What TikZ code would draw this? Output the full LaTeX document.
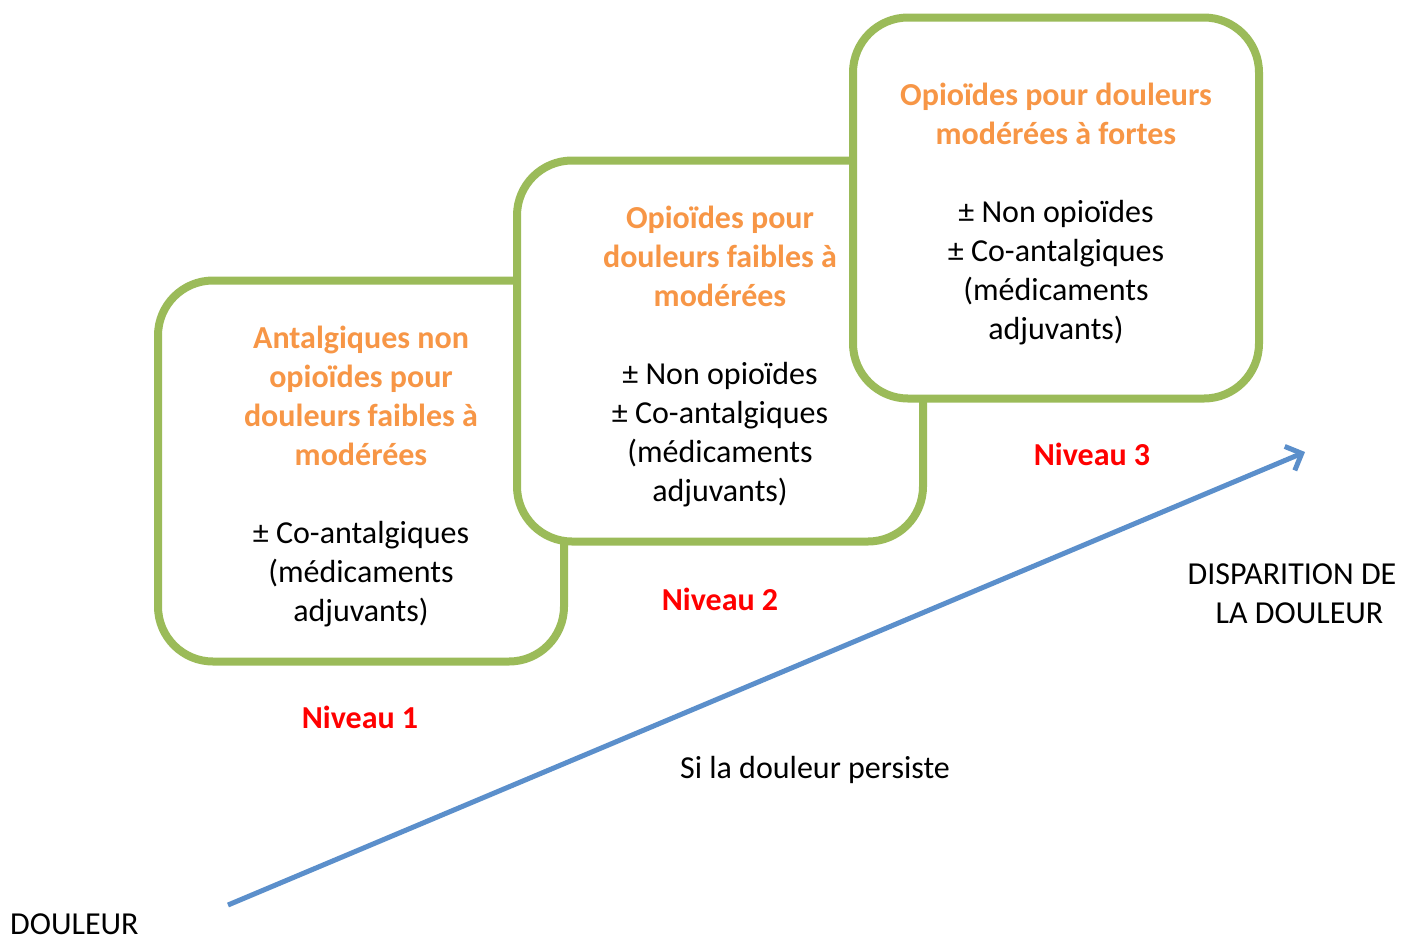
\documentclass[tikz,border=0pt]{standalone}
\usepackage{fontspec}
\setmainfont{Carlito}
\usetikzlibrary{arrows.meta, positioning}
\definecolor{boxgreen}{HTML}{9BBB59}
\definecolor{titleorange}{HTML}{F79646}
\definecolor{arrowblue}{HTML}{5B8FCB}
\definecolor{levelred}{HTML}{FF0000}
\tikzstyle{stepbox} = [draw=boxgreen, fill=white, line width=8pt, rounded corners=55pt,
  minimum width=406pt, minimum height=381pt, align=center, inner sep=0pt]
\tikzstyle{niveau} = [text=levelred, font=\fontsize{32}{39}\selectfont\bfseries]
\tikzstyle{plain} = [inner sep=0pt]
\newcommand{\titre}[1]{\textcolor{titleorange}{\textbf{#1}}}
\newcommand{\haut}{\rule{0pt}{34pt}}

\begin{document}
\begin{tikzpicture}[x=1pt,y=-1pt,font=\fontsize{32}{39}\selectfont,
    >={Straight Barb[length=13pt,width=26pt]}]
  \useasboundingbox (0,0) rectangle (1413,938);
  % three overlapping steps
  \node[stepbox] (box1) at (361,471) {\haut\titre{Antalgiques non}\\ \titre{opioïdes pour}\\
    \titre{douleurs faibles à}\\ \titre{modérées}\\[39pt]
    ± Co-antalgiques\\ (médicaments\\ adjuvants)};
  \node[stepbox] (box2) at (720,351) {\haut\titre{Opioïdes pour}\\ \titre{douleurs faibles à}\\
    \titre{modérées}\\[39pt]
    ± Non opioïdes\\ ± Co-antalgiques\\ (médicaments\\ adjuvants)};
  \node[stepbox] (box3) at (1056,208) {\haut\titre{Opioïdes pour douleurs}\\ \titre{modérées à fortes}\\[39pt]
    ± Non opioïdes\\ ± Co-antalgiques\\ (médicaments\\ adjuvants)};
  \node[niveau] (niv1) at (360,717) {Niveau 1};
  \node[niveau] (niv2) at (720,599) {Niveau 2};
  \node[niveau] (niv3) at (1092,454) {Niveau 3};
  % the way up
  \node[plain, anchor=west] (depart) at (10,924) {DOULEUR};
  \node[plain, align=center] (arrivee) at (1292,594) {DISPARITION DE\\ \hspace*{15pt}LA DOULEUR};
  \node[plain] (persiste) at (815,770) {Si la douleur persiste};
  \coordinate (debut) at (228,905);
  \coordinate (fin) at (1305,452);
  \draw[->, arrowblue, line width=5pt] (debut) -- (fin);
\end{tikzpicture}
\end{document}
